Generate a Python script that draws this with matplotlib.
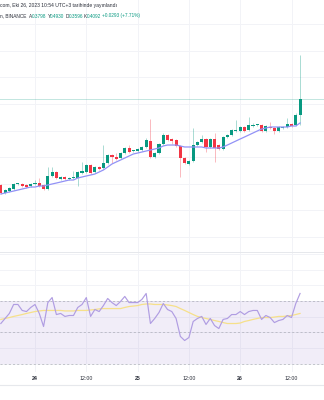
import matplotlib.pyplot as plt
import numpy as np
from matplotlib.lines import Line2D

# hourly candles, hour 0 = 24 Eki 00:00
hours = np.arange(-8, 63)

opens = [0.2472, 0.2321, 0.2358, 0.2396, 0.2491, 0.2491, 0.2472, 0.2453, 0.2491, 0.2509,
         0.2472, 0.2396, 0.2642, 0.2717, 0.2585, 0.2623, 0.2585, 0.2604, 0.2604, 0.2698,
         0.2717, 0.2849, 0.2717, 0.2811, 0.2792, 0.2887, 0.3038, 0.3000, 0.2981, 0.3075,
         0.3170, 0.3113, 0.3113, 0.3132, 0.3189, 0.3302, 0.3000, 0.3075, 0.3245, 0.3415,
         0.3340, 0.3321, 0.3208, 0.2981, 0.2868, 0.2925, 0.3226, 0.3283, 0.3340, 0.3189,
         0.3340, 0.3226, 0.3151, 0.3377, 0.3415, 0.3491, 0.3491, 0.3566, 0.3509, 0.3585,
         0.3604, 0.3604, 0.3491, 0.3566, 0.3547, 0.3491, 0.3547, 0.3566, 0.3623, 0.3604,
         0.3798]
closes = [0.2321, 0.2377, 0.2415, 0.2491, 0.2491, 0.2453, 0.2434, 0.2491, 0.2509, 0.2453,
          0.2396, 0.2642, 0.2717, 0.2604, 0.2623, 0.2585, 0.2604, 0.2604, 0.2717, 0.2736,
          0.2849, 0.2698, 0.2811, 0.2774, 0.2887, 0.3038, 0.3000, 0.2962, 0.3075, 0.3170,
          0.3094, 0.3113, 0.3151, 0.3189, 0.3321, 0.3000, 0.3075, 0.3245, 0.3415, 0.3321,
          0.3302, 0.3208, 0.2981, 0.2887, 0.2925, 0.3226, 0.3283, 0.3340, 0.3189, 0.3340,
          0.3170, 0.3151, 0.3377, 0.3415, 0.3509, 0.3491, 0.3566, 0.3491, 0.3604, 0.3604,
          0.3604, 0.3491, 0.3585, 0.3547, 0.3491, 0.3566, 0.3566, 0.3623, 0.3585, 0.3799,
          0.4092]
highs = [0.2491, 0.2396, 0.2434, 0.2509, 0.2509, 0.2509, 0.2491, 0.2509, 0.2566, 0.2604,
         0.2491, 0.2811, 0.2811, 0.2736, 0.2642, 0.2642, 0.2623, 0.2736, 0.2736, 0.2906,
         0.2868, 0.2868, 0.2830, 0.2830, 0.3226, 0.3057, 0.3057, 0.3075, 0.3094, 0.3189,
         0.3226, 0.3132, 0.3170, 0.3208, 0.3358, 0.3717, 0.3094, 0.3264, 0.3453, 0.3434,
         0.3358, 0.3340, 0.3226, 0.3000, 0.2943, 0.3547, 0.3302, 0.3415, 0.3358, 0.3358,
         0.3453, 0.3245, 0.3396, 0.3434, 0.3528, 0.3698, 0.3585, 0.3585, 0.3755, 0.3642,
         0.3623, 0.3623, 0.3604, 0.3660, 0.3566, 0.3585, 0.3585, 0.3736, 0.3642, 0.3830,
         0.4930]
lows = [0.2302, 0.2302, 0.2340, 0.2377, 0.2472, 0.2434, 0.2415, 0.2434, 0.2472, 0.2434,
        0.2377, 0.2377, 0.2623, 0.2585, 0.2566, 0.2566, 0.2566, 0.2585, 0.2453, 0.2679,
        0.2698, 0.2679, 0.2698, 0.2755, 0.2774, 0.2868, 0.2887, 0.2943, 0.2962, 0.3057,
        0.3075, 0.3094, 0.3094, 0.3113, 0.3170, 0.2981, 0.2981, 0.3057, 0.3226, 0.3302,
        0.3245, 0.3189, 0.2623, 0.2868, 0.2849, 0.2906, 0.3208, 0.3264, 0.3094, 0.3170,
        0.2906, 0.3132, 0.3132, 0.3358, 0.3396, 0.3472, 0.3472, 0.3472, 0.3491, 0.3566,
        0.3585, 0.3472, 0.3472, 0.3528, 0.3434, 0.3472, 0.3528, 0.3547, 0.3566, 0.3585,
        0.3596]
ma_line = [0.2302, 0.2321, 0.2340, 0.2358, 0.2377, 0.2396, 0.2415, 0.2434, 0.2434, 0.2453,
           0.2453, 0.2472, 0.2491, 0.2509, 0.2528, 0.2547, 0.2566, 0.2566, 0.2604, 0.2623,
           0.2642, 0.2660, 0.2679, 0.2717, 0.2755, 0.2811, 0.2868, 0.2906, 0.2943, 0.2981,
           0.3019, 0.3057, 0.3075, 0.3094, 0.3113, 0.3132, 0.3151, 0.3170, 0.3208, 0.3226,
           0.3226, 0.3226, 0.3208, 0.3189, 0.3189, 0.3189, 0.3189, 0.3189, 0.3170, 0.3170,
           0.3170, 0.3170, 0.3189, 0.3226, 0.3264, 0.3302, 0.3340, 0.3377, 0.3415, 0.3453,
           0.3491, 0.3528, 0.3547, 0.3566, 0.3566, 0.3566, 0.3566, 0.3566, 0.3585, 0.3585,
           0.3642]

rsi = [55.7, 58.9, 62.1, 67.8, 67.8, 64.0, 63.3, 65.9, 67.8, 62.1,
       53.8, 69.0, 72.2, 61.4, 62.1, 60.2, 60.8, 60.8, 65.9, 67.8,
       72.2, 60.2, 64.6, 63.3, 67.1, 71.6, 69.0, 67.1, 69.7, 72.9,
       69.0, 69.0, 69.0, 71.0, 74.8, 55.7, 58.9, 62.7, 68.4, 64.6,
       63.3, 58.9, 47.5, 44.9, 46.8, 57.0, 58.9, 60.2, 55.1, 58.9,
       54.4, 52.5, 58.3, 58.9, 61.4, 61.4, 63.3, 61.4, 63.3, 64.0,
       64.0, 58.3, 60.8, 59.5, 56.3, 57.6, 58.3, 60.8, 59.5, 68.4,
       74.8]
rsi_ma = [58.3, 58.9, 59.5, 60.2, 60.8, 61.4, 62.1, 62.7, 63.3, 63.7,
          64.0, 64.0, 64.0, 64.0, 64.0, 63.7, 63.7, 63.7, 64.0, 64.0,
          64.0, 64.3, 64.6, 65.0, 65.2, 65.2, 65.2, 65.2, 65.2, 65.9,
          66.5, 66.8, 67.1, 67.8, 68.1, 68.1, 67.8, 67.8, 67.8, 67.5,
          67.1, 66.5, 65.2, 64.0, 62.7, 61.4, 60.2, 59.5, 58.9, 58.3,
          57.6, 57.0, 56.3, 55.7, 55.7, 55.7, 56.0, 57.0, 57.6, 58.3,
          58.9, 59.5, 59.5, 59.5, 59.8, 60.2, 60.2, 60.5, 60.8, 61.4,
          62.1]

tick_hours = [0, 12, 24, 36, 48, 60]
tick_labels = ['24', '12:00', '25', '12:00', '26', '12:00']

UP = '#089981'
DOWN = '#f23645'
GRID = '#f2f3f7'
TXT = '#2a2e39'

plt.rcParams['font.family'] = ['Liberation Sans', 'DejaVu Sans']

fig = plt.figure(figsize=(3.24, 4.0), dpi=100)
ax = fig.add_axes([0, 0.3675, 1, 0.6325])
ax_rsi = fig.add_axes([0, 0.07, 1, 0.2975])

xlim = (-8.19, 67.6)
for a in (ax, ax_rsi):
    a.set_xlim(*xlim)
    for s in a.spines.values():
        s.set_visible(False)
    a.set_yticks([])
    a.tick_params(length=0)
    for h in tick_hours:
        a.axvline(h, color=GRID, lw=0.7, zorder=0)

ax.set_ylim(0.1189, 0.5962)
ax.set_xticks([])
for p in np.arange(0.15, 0.56, 0.05):
    ax.axhline(p, color=GRID, lw=0.7, zorder=0)
ax.spines['bottom'].set_visible(True)
ax.spines['bottom'].set_color('#e6e8ec')
ax.spines['bottom'].set_linewidth(1.4)

# candles
o = np.array(opens)
c = np.array(closes)
col = np.where(c >= o, UP, DOWN)
ax.vlines(hours, lows, highs, colors=col, alpha=0.4, lw=0.6, zorder=2)
body = np.maximum(np.abs(c - o), 0.0016)
ax.bar(hours, body, bottom=np.minimum(o, c), width=0.72, color=col, lw=0, zorder=3)
ax.axhline(closes[-1], color=UP, lw=0.7, alpha=0.25, zorder=1)
ax.plot(hours, ma_line, color='#9292f6', lw=0.9, zorder=4)

# RSI pane
ax_rsi.set_ylim(24.9, 100.5)
for v in range(30, 101, 10):
    ax_rsi.axhline(v, color=GRID, lw=0.7, zorder=0)
ax_rsi.axhspan(30, 70, color='#7e57c2', alpha=0.1, lw=0, zorder=1)
for v in (30, 50, 70):
    ax_rsi.axhline(v, color='#a3a5ae', lw=0.6, ls=(0, (2.5, 2.5)), alpha=0.7, zorder=2)
ax_rsi.plot(hours, rsi_ma, color='#f6e08a', lw=0.9, zorder=3)
ax_rsi.plot(hours, rsi, color='#b09de2', lw=0.85, zorder=4)

ax_rsi.set_xticks(tick_hours)
ax_rsi.set_xticklabels(tick_labels, fontsize=3.8, color=TXT)
for lbl in ax_rsi.get_xticklabels():
    if ':' not in lbl.get_text():
        lbl.set_fontweight('bold')
ax_rsi.tick_params(axis='x', pad=3)

fig.add_artist(Line2D([0, 1], [15 / 400, 15 / 400], color='#e6e8ec', lw=0.8))

# header
fig.text(0.0, 1 - 6 / 400, 'com, Eki 26, 2023 10:54 UTC+3 tarihinde yayınlandı',
         fontsize=3.6, color=TXT, va='center')
chg = closes[-1] - closes[-2]
pct = chg / closes[-2] * 100
pieces = [('n, BINANCE', 0, TXT), ('A', 29, TXT), (f'{opens[-1]:.4f}', 32, UP),
          ('Y', 47.5, TXT), (f'{highs[-1]:.4f}', 50, UP),
          ('D', 66, TXT), (f'{lows[-1]:.4f}', 68.5, UP),
          ('K', 84, TXT), (f'{closes[-1]:.4f}', 86.5, UP),
          (f'+{chg:.4f} (+{pct:.2f}%)', 102, UP)]
for txt, xpx, colr in pieces:
    fig.text(xpx / 324, 1 - 16 / 400, txt, fontsize=3.4, color=colr, va='center')

fig.savefig('out.png', dpi=100)
plt.close()
